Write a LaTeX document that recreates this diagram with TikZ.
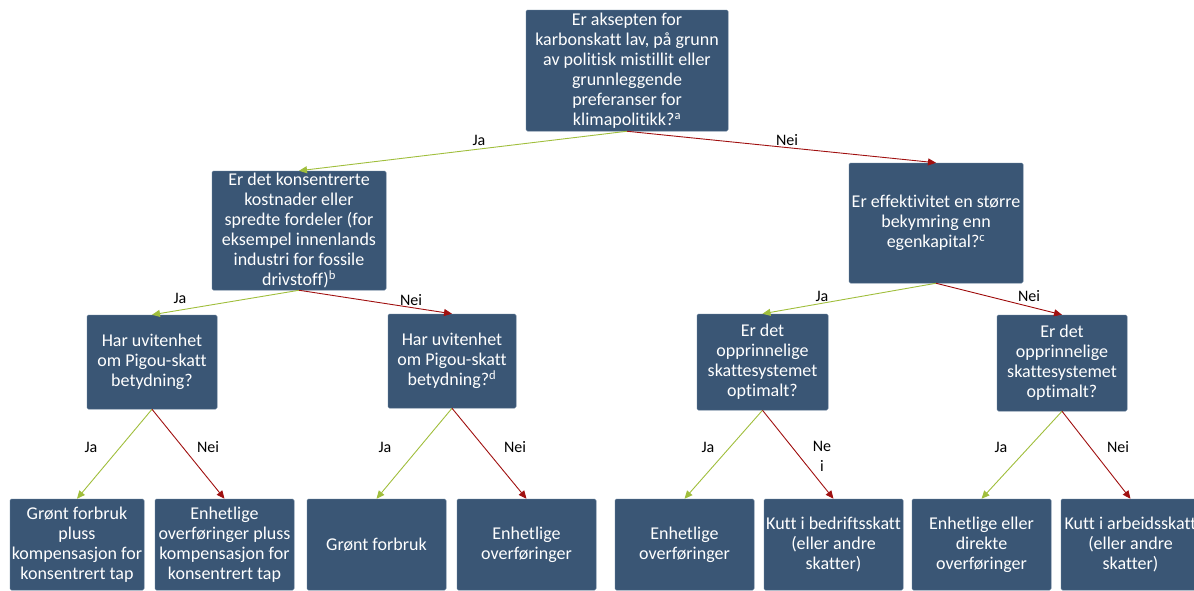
\documentclass[tikz,border=0pt]{standalone}
\usepackage{fontspec}
\setmainfont{Carlito}[Ligatures={NoCommon}]
\usetikzlibrary{arrows.meta}
\definecolor{boxblue}{RGB}{58,86,117}
\definecolor{boxedge}{RGB}{80,108,138}
\definecolor{yesgreen}{RGB}{160,190,60}
\definecolor{nored}{RGB}{160,16,16}
\tikzset{
  qbox/.style={fill=boxblue, draw=boxedge, line width=0.5pt, rounded corners=1.5pt, inner sep=0pt},
  qtext/.style={text=white, align=center, inner sep=0pt, font=\fontsize{18}{20}\selectfont},
  yesarrow/.style={draw=yesgreen, line width=0.9pt, -{Triangle[length=8pt,width=7pt]}},
  noarrow/.style={draw=nored, line width=0.9pt, -{Triangle[length=8pt,width=7pt]}},
  lab/.style={text=black, align=center, inner sep=0pt, font=\fontsize{16}{20}\selectfont}
}
% #1 name, #2 cx, #3 cy, #4 width, #5 height, #6 text
\newcommand\mkqbox[6]{%
  \node[qbox, minimum width=#4pt, minimum height=#5pt] (#1) at (#2,#3) {};
  \node[qtext] (#1t) at (#1.center) {#6};}
\begin{document}
\begin{tikzpicture}[x=1pt,y=-1pt]
\useasboundingbox (0,0) rectangle (1194,590);
\mkqbox{top}{627}{70.5}{202}{121}{Er aksepten for\\karbonskatt lav, på grunn\\av politisk mistillit eller\\grunnleggende\\preferanser for\\klimapolitikk?\textsuperscript{a}}
\mkqbox{lone}{299}{230.5}{174}{119}{Er det konsentrerte\\kostnader eller\\spredte fordeler (for\\eksempel innenlands\\industri for fossile\\drivstoff)\textsuperscript{b}}
\mkqbox{rone}{936}{223}{174}{120}{Er effektivitet en større\\bekymring enn\\egenkapital?\textsuperscript{c}}
\mkqbox{ll}{152}{362}{130}{94}{Har uvitenhet\\om Pigou-skatt\\betydning?}
\mkqbox{lr}{452}{361}{128}{94}{Har uvitenhet\\om Pigou-skatt\\betydning?\textsuperscript{d}}
\mkqbox{rl}{762.5}{362}{131}{96}{Er det\\opprinnelige\\skattesystemet\\optimalt?}
\mkqbox{rr}{1062}{363}{130}{96}{Er det\\opprinnelige\\skattesystemet\\optimalt?}
\mkqbox{leafa}{77}{544.5}{134}{91}{Grønt forbruk\\pluss\\kompensasjon for\\konsentrert tap}
\mkqbox{leafb}{224.5}{544.5}{139}{91}{Enhetlige\\overføringer pluss\\kompensasjon for\\konsentrert tap}
\mkqbox{leafc}{376.5}{544.5}{139}{91}{Grønt forbruk}
\mkqbox{leafd}{526.5}{544.5}{139}{91}{Enhetlige\\overføringer}
\mkqbox{leafe}{684.5}{544.5}{139}{91}{Enhetlige\\overføringer}
\mkqbox{leaff}{833.5}{544.5}{139}{91}{Kutt i bedriftsskatt\\(eller andre\\skatter)}
\mkqbox{leafg}{981.5}{544.5}{139}{91}{Enhetlige eller\\direkte\\overføringer}
\mkqbox{leafh}{1130.5}{544.5}{139}{91}{Kutt i arbeidsskatt\\(eller andre\\skatter)}
% connectors
\draw[yesarrow] (top.south) -- (lone.north);
\draw[noarrow] (top.south) -- (rone.north);
\draw[yesarrow] (lone.south) -- (ll.north);
\draw[noarrow] (lone.south) -- (lr.north);
\draw[yesarrow] (rone.south) -- (rl.north);
\draw[noarrow] (rone.south) -- (rr.north);
\draw[yesarrow] (ll.south) -- (leafa.north);
\draw[noarrow] (ll.south) -- (leafb.north);
\draw[yesarrow] (lr.south) -- (leafc.north);
\draw[noarrow] (lr.south) -- (leafd.north);
\draw[yesarrow] (rl.south) -- (leafe.north);
\draw[noarrow] (rl.south) -- (leaff.north);
\draw[yesarrow] (rr.south) -- (leafg.north);
\draw[noarrow] (rr.south) -- (leafh.north);
% labels
\node[lab] (la1) at (479,140) {Ja};
\node[lab] (ln1) at (787,140) {Nei};
\node[lab] (la2) at (180,298) {Ja};
\node[lab] (ln2) at (411,300) {Nei};
\node[lab] (la3) at (822,296) {Ja};
\node[lab] (ln3) at (1029,296) {Nei};
\node[lab] (la4) at (91,447) {Ja};
\node[lab] (ln4) at (208,447) {Nei};
\node[lab] (la5) at (385,447) {Ja};
\node[lab] (ln5) at (515,447) {Nei};
\node[lab] (la6) at (708,447) {Ja};
\node[lab] (ln6) at (822,456) {Ne\\i};
\node[lab] (la7) at (1001,447) {Ja};
\node[lab] (ln7) at (1118,447) {Nei};
\end{tikzpicture}
\end{document}
